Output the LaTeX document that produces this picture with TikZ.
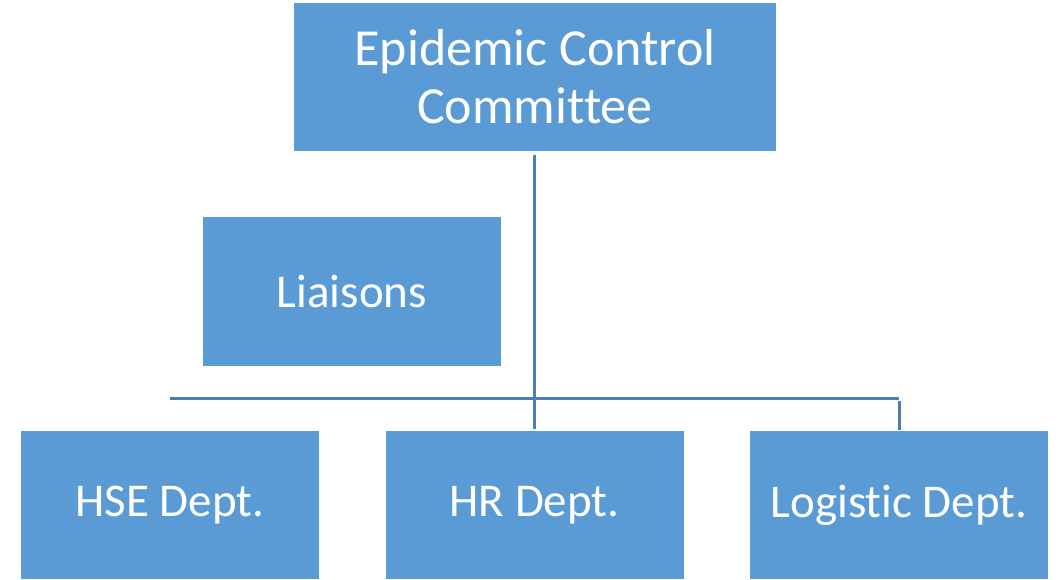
\documentclass[tikz,border=0pt]{standalone}
\usepackage{fontspec}
\setmainfont[Ligatures={NoCommon}]{Carlito}
\definecolor{boxblue}{HTML}{5B9BD5}
\definecolor{lineblue}{HTML}{4A7DB0}
\begin{document}
\begin{tikzpicture}[x=1pt,y=-1pt,
  orgbox/.style={fill=boxblue,draw=none,text=white,align=center,inner sep=0pt,font=\fontsize{47}{56}\selectfont},
  link/.style={draw=lineblue,line width=3pt}]
\useasboundingbox (0,0) rectangle (1059,580);
\node[orgbox,minimum width=482pt,minimum height=148pt,font=\fontsize{52}{58}\selectfont] (top) at (535,77) {Epidemic Control\\Committee};
\node[orgbox,minimum width=298pt,minimum height=149pt] (lia) at (352,291.5) {Liaisons};
\node[orgbox,minimum width=298pt,minimum height=148pt] (hse) at (170,505) {HSE Dept.};
\node[orgbox,minimum width=298pt,minimum height=148pt] (hr) at (534.5,505) {HR Dept.};
\node[orgbox,minimum width=298pt,minimum height=148pt] (log) at (899,505) {Logistic Dept.};
\coordinate (hl) at (170,398);
\coordinate (hr2) at (899,398);
\coordinate (ts) at (534.5,155);
\coordinate (he) at (534.5,429);
\coordinate (ls) at (899,401);
\coordinate (le) at (899,430);
\draw[link] (ts) -- (he);
\draw[link] (hl) -- (hr2);
\draw[link] (ls) -- (le);
\end{tikzpicture}
\end{document}
